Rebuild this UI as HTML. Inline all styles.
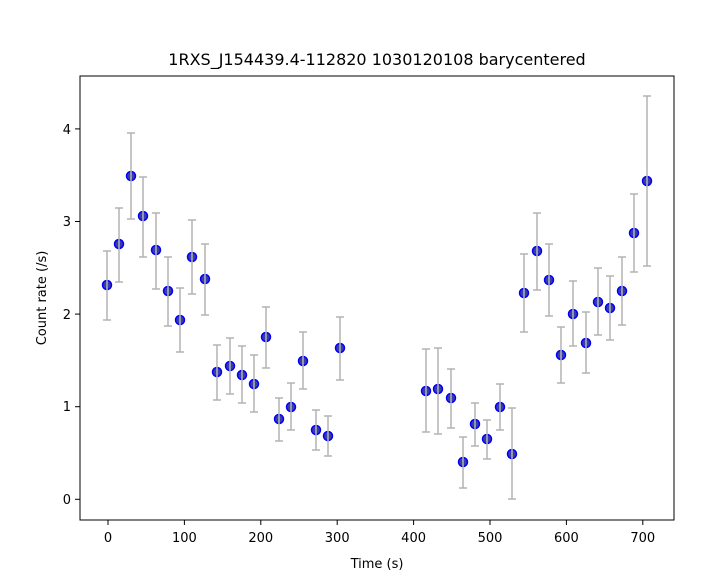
<!DOCTYPE html><html><head><style>body{margin:0;background:#fff}svg{display:block}text{font-family:"DejaVu Sans","Liberation Sans",sans-serif;fill:#000}</style></head><body>
<svg width="709" height="586" xmlns="http://www.w3.org/2000/svg">
<text x="377" y="65" font-size="16" text-anchor="middle">1RXS_J154439.4-112820 1030120108 barycentered</text>
<rect x="80" y="76" width="594" height="444" fill="none" stroke="#000" stroke-width="1"/>
<g stroke="#000">
<line x1="108" y1="520" x2="108" y2="525"/><line x1="184.4" y1="520" x2="184.4" y2="525"/><line x1="260.8" y1="520" x2="260.8" y2="525"/><line x1="337.2" y1="520" x2="337.2" y2="525"/><line x1="413.6" y1="520" x2="413.6" y2="525"/><line x1="490" y1="520" x2="490" y2="525"/><line x1="566.4" y1="520" x2="566.4" y2="525"/><line x1="642.8" y1="520" x2="642.8" y2="525"/>
<line x1="75" y1="499.3" x2="80" y2="499.3"/><line x1="75" y1="406.7" x2="80" y2="406.7"/><line x1="75" y1="314.1" x2="80" y2="314.1"/><line x1="75" y1="221.5" x2="80" y2="221.5"/><line x1="75" y1="128.9" x2="80" y2="128.9"/>
</g>
<g font-size="13" text-anchor="middle">
<text x="108" y="542">0</text><text x="184.4" y="542">100</text><text x="260.8" y="542">200</text><text x="337.2" y="542">300</text><text x="413.6" y="542">400</text><text x="490" y="542">500</text><text x="566.4" y="542">600</text><text x="642.8" y="542">700</text>
<text x="377" y="568">Time (s)</text>
</g>
<g font-size="13" text-anchor="end">
<text x="71" y="504">0</text><text x="71" y="411">1</text><text x="71" y="319">2</text><text x="71" y="226">3</text><text x="71" y="134">4</text>
</g>
<text transform="translate(46,298) rotate(-90)" font-size="13" text-anchor="middle">Count rate (/s)</text>
<g fill="#3a3aa8" stroke="#0000ff" stroke-width="1.5">
<circle cx="107" cy="285" r="4.5"/><circle cx="119" cy="244" r="4.5"/><circle cx="131" cy="176" r="4.5"/><circle cx="143" cy="216" r="4.5"/><circle cx="156" cy="250" r="4.5"/><circle cx="168" cy="291" r="4.5"/><circle cx="180" cy="320" r="4.5"/><circle cx="192" cy="257" r="4.5"/><circle cx="205" cy="279" r="4.5"/><circle cx="217" cy="372" r="4.5"/><circle cx="230" cy="366" r="4.5"/><circle cx="242" cy="375" r="4.5"/><circle cx="254" cy="384" r="4.5"/><circle cx="266" cy="337" r="4.5"/><circle cx="279" cy="419" r="4.5"/><circle cx="291" cy="407" r="4.5"/><circle cx="303" cy="361" r="4.5"/><circle cx="316" cy="430" r="4.5"/><circle cx="328" cy="436" r="4.5"/><circle cx="340" cy="348" r="4.5"/><circle cx="426" cy="391" r="4.5"/><circle cx="438" cy="389" r="4.5"/><circle cx="451" cy="398" r="4.5"/><circle cx="463" cy="462" r="4.5"/><circle cx="475" cy="424" r="4.5"/><circle cx="487" cy="439" r="4.5"/><circle cx="500" cy="407" r="4.5"/><circle cx="512" cy="454" r="4.5"/><circle cx="524" cy="293" r="4.5"/><circle cx="537" cy="251" r="4.5"/><circle cx="549" cy="280" r="4.5"/><circle cx="561" cy="355" r="4.5"/><circle cx="573" cy="314" r="4.5"/><circle cx="586" cy="343" r="4.5"/><circle cx="598" cy="302" r="4.5"/><circle cx="610" cy="308" r="4.5"/><circle cx="622" cy="291" r="4.5"/><circle cx="634" cy="233" r="4.5"/><circle cx="647" cy="181" r="4.5"/>
</g>
<g stroke="#b4b4b4" stroke-width="1.5" fill="none">
<path d="M107 251V320M103 251h8M103 320h8"/>
<path d="M119 208V282M115 208h8M115 282h8"/>
<path d="M131 133V219M127 133h8M127 219h8"/>
<path d="M143 177V257M139 177h8M139 257h8"/>
<path d="M156 213V289M152 213h8M152 289h8"/>
<path d="M168 257V326M164 257h8M164 326h8"/>
<path d="M180 288V352M176 288h8M176 352h8"/>
<path d="M192 220V294M188 220h8M188 294h8"/>
<path d="M205 244V315M201 244h8M201 315h8"/>
<path d="M217 345V400M213 345h8M213 400h8"/>
<path d="M230 338V394M226 338h8M226 394h8"/>
<path d="M242 346V403M238 346h8M238 403h8"/>
<path d="M254 355V412M250 355h8M250 412h8"/>
<path d="M266 307V368M262 307h8M262 368h8"/>
<path d="M279 398V441M275 398h8M275 441h8"/>
<path d="M291 383V430M287 383h8M287 430h8"/>
<path d="M303 332V389M299 332h8M299 389h8"/>
<path d="M316 410V450M312 410h8M312 450h8"/>
<path d="M328 416V456M324 416h8M324 456h8"/>
<path d="M340 317V380M336 317h8M336 380h8"/>
<path d="M426 349V432M422 349h8M422 432h8"/>
<path d="M438 348V434M434 348h8M434 434h8"/>
<path d="M451 369V428M447 369h8M447 428h8"/>
<path d="M463 437V488M459 437h8M459 488h8"/>
<path d="M475 403V446M471 403h8M471 446h8"/>
<path d="M487 420V459M483 420h8M483 459h8"/>
<path d="M500 384V430M496 384h8M496 430h8"/>
<path d="M512 408V499M508 408h8M508 499h8"/>
<path d="M524 254V332M520 254h8M520 332h8"/>
<path d="M537 213V290M533 213h8M533 290h8"/>
<path d="M549 244V316M545 244h8M545 316h8"/>
<path d="M561 327V383M557 327h8M557 383h8"/>
<path d="M573 281V346M569 281h8M569 346h8"/>
<path d="M586 312V373M582 312h8M582 373h8"/>
<path d="M598 268V335M594 268h8M594 335h8"/>
<path d="M610 276V340M606 276h8M606 340h8"/>
<path d="M622 257V325M618 257h8M618 325h8"/>
<path d="M634 194V272M630 194h8M630 272h8"/>
<path d="M647 96V266M643 96h8M643 266h8"/>
</g>
</svg></body></html>
